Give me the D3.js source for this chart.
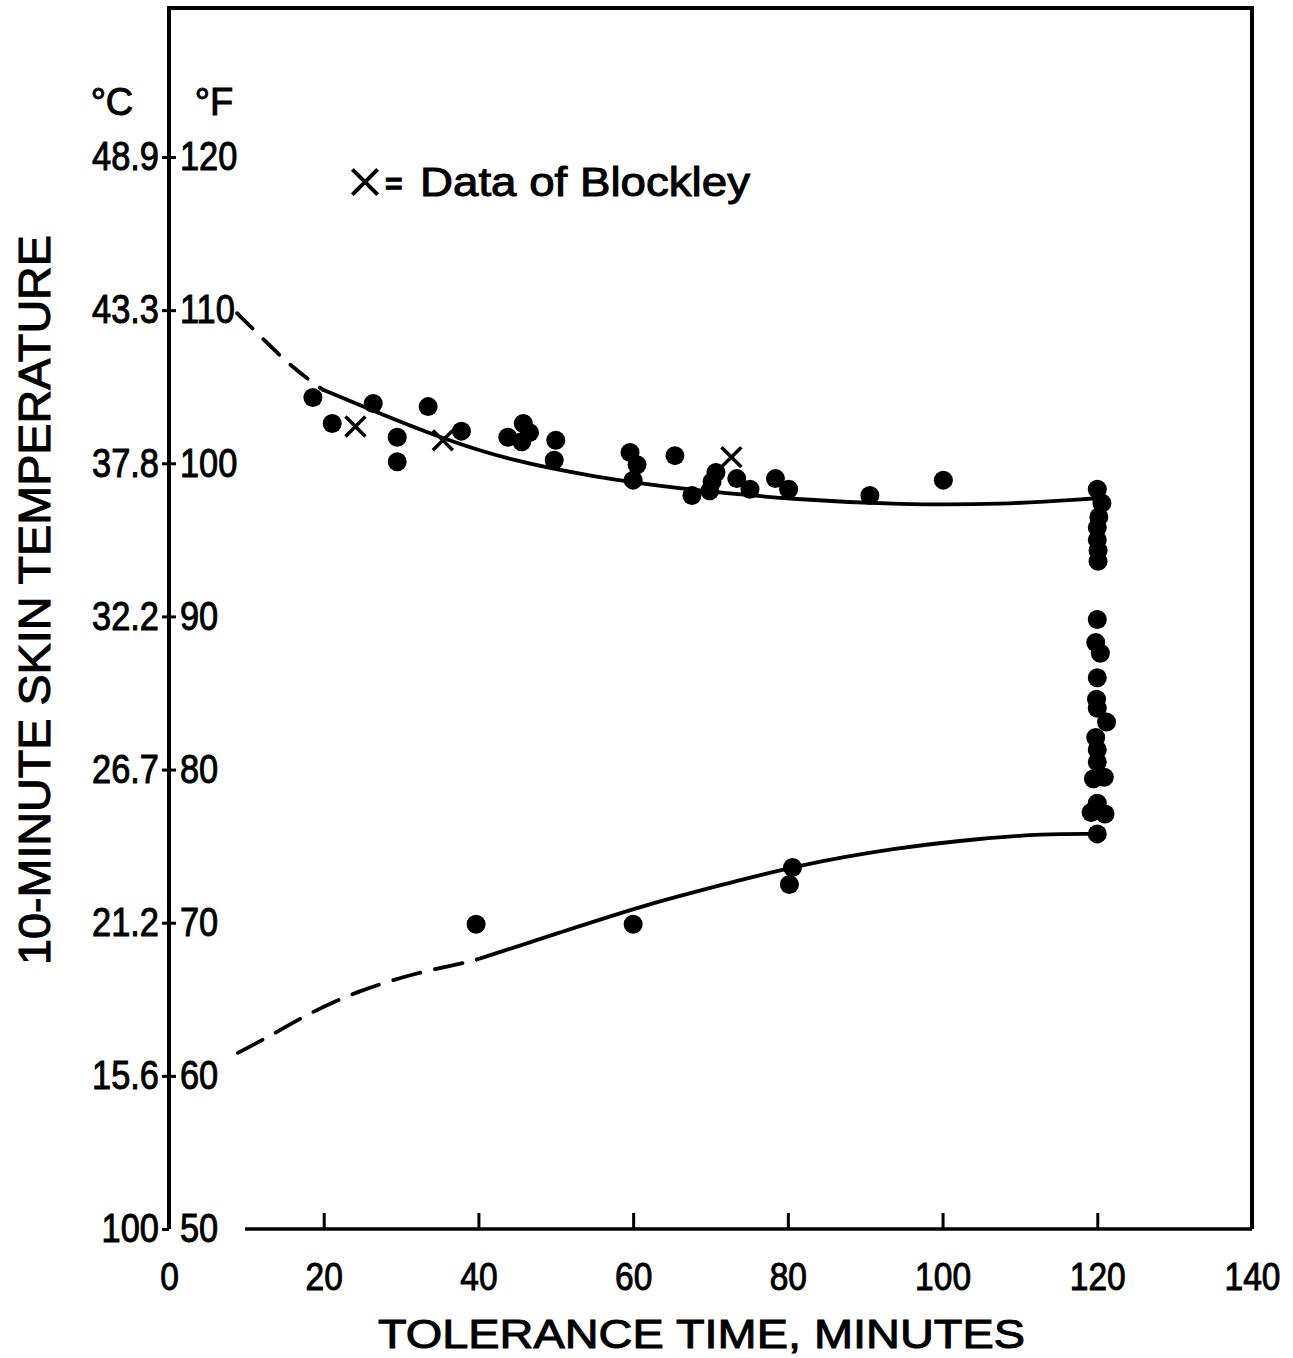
<!DOCTYPE html>
<html>
<head>
<meta charset="utf-8">
<script src="https://cdn.jsdelivr.net/npm/d3@7"></script>
<style>
  html, body { margin: 0; padding: 0; background: #fff; }
  svg { display: block; }
  text { font-family: "Liberation Sans", Arial, sans-serif; fill: #000; stroke: #000; stroke-width: 1px; }
</style>
</head>
<body>
<svg id="chart" width="1293" height="1358"></svg>
<script>
// ---- Data ----
const xTicks = [0, 20, 40, 60, 80, 100, 120, 140];
const fahrenheitTicks = [50, 60, 70, 80, 90, 100, 110, 120];
const celsiusLabels = ["100", "15.6", "21.2", "26.7", "32.2", "37.8", "43.3", "48.9"];

// filled dots: [tolerance time (min), skin temperature (°F)]
const upperDots = [
  [18.6, 104.3], [21.1, 102.6], [26.4, 103.9], [29.5, 101.7], [29.5, 100.1],
  [33.5, 103.7], [37.8, 102.1], [43.8, 101.7], [45.8, 102.6], [46.6, 102.0],
  [45.6, 101.4], [50.0, 101.5], [49.8, 100.2], [59.6, 100.7], [60.5, 99.9],
  [60.0, 98.9], [65.4, 100.5], [67.6, 97.9], [69.9, 98.2], [70.2, 98.8],
  [70.7, 99.4], [73.4, 99.0], [75.1, 98.3], [78.4, 99.0], [80.1, 98.3],
  [90.6, 97.9], [100.1, 98.9]
];
const columnDots = [
  [120.0, 98.3], [120.6, 97.4], [120.2, 96.5], [120.0, 95.8], [120.0, 95.0],
  [120.1, 94.3], [120.1, 93.6], [120.0, 89.8], [119.8, 88.3], [120.4, 87.6],
  [120.0, 86.0], [119.9, 84.6], [120.0, 84.0], [121.2, 83.1], [119.8, 82.1],
  [120.0, 81.3], [120.0, 80.5], [119.5, 79.4], [120.9, 79.5], [120.0, 77.8],
  [119.2, 77.2], [121.0, 77.1], [120.0, 75.8]
];
const lowerDots = [
  [39.7, 69.9], [60.0, 69.9], [80.6, 73.6], [80.2, 72.5]
];
// "x = Data of Blockley"
const blockleyPoints = [
  [24.1, 102.4], [35.4, 101.5], [72.7, 100.4]
];
// fitted curves
const upperCurveDashed = [[8.8, 109.8], [11.8, 108.3], [15.4, 106.5], [18.5, 105.3], [19.9, 104.8]];
const upperCurveSolid = [
  [19.9, 104.8], [27.0, 103.3], [35.4, 101.6], [44.0, 100.2], [55.0, 99.1],
  [66.5, 98.3], [81.6, 97.6], [94.5, 97.3], [107.5, 97.3], [119.4, 97.7]
];
const lowerCurveDashed = [
  [8.9, 61.5], [12.7, 62.5], [18.5, 64.2], [24.2, 65.5], [31.7, 66.7], [38.4, 67.4], [39.8, 67.6]
];
const lowerCurveSolid = [
  [39.8, 67.6], [50.2, 69.3], [61.7, 71.2], [73.3, 72.7], [80.8, 73.7],
  [94.0, 74.9], [105.0, 75.5], [113.0, 75.8], [119.4, 75.8]
];

// ---- Layout ----
const svg = d3.select("#chart");
const x = d3.scaleLinear().domain([0, 140]).range([169, 1252]);
const y = d3.scaleLinear().domain([50, 120]).range([1229, 157]);
const frameTop = 8;
const sx = 0.86; // condensed lettering

// frame: left, top, right
svg.append("path")
  .attr("d", `M${x(0)},${y(50)} L${x(0)},${frameTop} L${x(140)},${frameTop} L${x(140)},${y(50)}`)
  .attr("fill", "none").attr("stroke", "#000").attr("stroke-width", 4);
// bottom axis line (starts after the "50" label)
svg.append("line")
  .attr("x1", 245).attr("x2", x(140)).attr("y1", y(50)).attr("y2", y(50))
  .attr("stroke", "#000").attr("stroke-width", 3.5);

// x axis (ticks point inward)
const xAxis = svg.append("g").attr("transform", `translate(0,${y(50)})`)
  .call(d3.axisBottom(x).tickValues(xTicks).tickSize(-16).tickPadding(33).tickFormat(d3.format("d")));
xAxis.select(".domain").remove();
xAxis.selectAll(".tick line").attr("stroke", "#000").attr("stroke-width", 3)
  .filter(d => d === 0 || d === 140).remove();
xAxis.selectAll(".tick text").attr("font-size", 39).attr("fill", "#000")
  .attr("font-family", null).attr("transform", `scale(${sx},1)`);

// y axis: Celsius on the left, Fahrenheit on the right
const yLeft = svg.append("g").attr("transform", `translate(${x(0)},0)`)
  .call(d3.axisLeft(y).tickValues(fahrenheitTicks).tickSize(7).tickPadding(3)
    .tickFormat((d, i) => celsiusLabels[i]));
const yRight = svg.append("g").attr("transform", `translate(${x(0)},0)`)
  .call(d3.axisRight(y).tickValues(fahrenheitTicks).tickSize(7).tickPadding(4)
    .tickFormat(d3.format("d")));
[yLeft, yRight].forEach(g => {
  g.select(".domain").remove();
  g.selectAll(".tick line").attr("stroke", "#000").attr("stroke-width", 3);
  g.selectAll(".tick text").attr("font-size", 40).attr("fill", "#000").attr("font-family", null)
    .attr("x", function () { return +d3.select(this).attr("x") / sx; })
    .attr("transform", `scale(${sx},1)`);
});
yRight.selectAll(".tick").filter(d => d === 50).select("line").remove();

// unit headers
svg.append("text").attr("x", 112).attr("y", 115).attr("text-anchor", "middle")
  .attr("font-size", 38).text("°C");
svg.append("text").attr("x", 214).attr("y", 115).attr("text-anchor", "middle")
  .attr("font-size", 38).text("°F");

// axis titles
svg.append("text").attr("x", 378).attr("y", 1348).attr("font-size", 40)
  .attr("textLength", 647).attr("lengthAdjust", "spacingAndGlyphs")
  .text("TOLERANCE TIME, MINUTES");
svg.append("text").attr("transform", "translate(50,965) rotate(-90)")
  .attr("font-size", 45).attr("textLength", 730).attr("lengthAdjust", "spacingAndGlyphs")
  .text("10-MINUTE SKIN TEMPERATURE");

// curves
const line = d3.line().x(d => x(d[0])).y(d => y(d[1])).curve(d3.curveBasis);
const curveStyle = (sel, dash) => sel.attr("fill", "none").attr("stroke", "#000")
  .attr("stroke-width", 3.8).attr("stroke-linecap", "round").attr("stroke-dasharray", dash);
curveStyle(svg.append("path").attr("d", line(upperCurveDashed)), "22,15");
curveStyle(svg.append("path").attr("d", line(upperCurveSolid)), null);
curveStyle(svg.append("path").attr("d", line(lowerCurveDashed)), "28,15");
curveStyle(svg.append("path").attr("d", line(lowerCurveSolid)), null);

// filled dots
svg.append("g").selectAll("circle")
  .data(upperDots.concat(columnDots, lowerDots))
  .join("circle")
  .attr("cx", d => x(d[0])).attr("cy", d => y(d[1])).attr("r", 9.5)
  .attr("fill", "#000");

// Blockley crosses
const cross = d3.symbol().type(d3.symbolX).size(260);
svg.append("g").selectAll("path")
  .data(blockleyPoints)
  .join("path")
  .attr("transform", d => `translate(${x(d[0])},${y(d[1])})`)
  .attr("d", cross).attr("fill", "none").attr("stroke", "#000").attr("stroke-width", 3.5);

// legend
svg.append("path").attr("transform", "translate(365,182)")
  .attr("d", d3.symbol().type(d3.symbolX).size(420))
  .attr("fill", "none").attr("stroke", "#000").attr("stroke-width", 4);
svg.append("text").attr("x", 385).attr("y", 194).attr("font-size", 30)
  .attr("font-weight", "bold").text("=");
svg.append("text").attr("x", 420).attr("y", 196).attr("font-size", 40)
  .attr("textLength", 330).attr("lengthAdjust", "spacingAndGlyphs")
  .text("Data of Blockley");
</script>
</body>
</html>
